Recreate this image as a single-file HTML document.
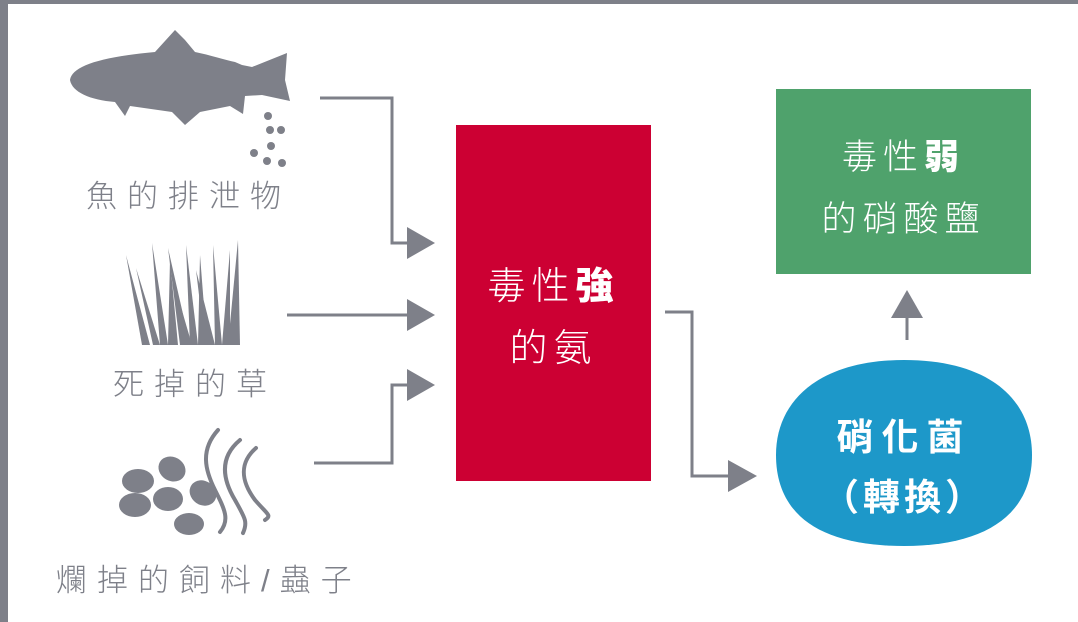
<!DOCTYPE html>
<html><head><meta charset="utf-8"><style>
html,body{margin:0;padding:0;background:#fff;}
body{width:1078px;height:622px;position:relative;overflow:hidden;font-family:"Liberation Sans","Noto Sans CJK TC",sans-serif;}
.t{position:absolute;color:#7e8089;font-size:31px;letter-spacing:10px;white-space:nowrap;font-weight:300;}
.w{position:absolute;color:#fff;text-align:center;white-space:nowrap;font-weight:300;}
.w b{font-weight:900;}
</style></head><body>
<div style="position:absolute;left:0;top:0;width:1078px;height:4px;background:#7e8089"></div>
<div style="position:absolute;left:0;top:0;width:8px;height:622px;background:#7e8089"></div>

<svg width="1078" height="622" style="position:absolute;left:0;top:0">
<g fill="#7e8089" stroke="none">
<path d="M70,80 C72,66 100,57 155,52 L175,30 L185,40 L195,52 C210,55 225,60 235,62 L242,65 L252,67 L287,53 L285,80 L290,101 L262,95 L245,96 L243,114 L230,106 L200,112 L185,125 L172,112 L130,106 L125,116 L115,102 C90,100 72,92 70,80Z"/>
<circle cx="268" cy="116" r="4"/><circle cx="270" cy="130" r="4"/><circle cx="281" cy="130" r="4"/>
<circle cx="271" cy="146" r="4"/><circle cx="254" cy="153" r="4"/><circle cx="267" cy="161" r="4"/><circle cx="282" cy="163" r="4"/>
<ellipse cx="138" cy="481" rx="16" ry="12"/><ellipse cx="135" cy="505" rx="16" ry="12"/>
<ellipse cx="172" cy="469" rx="14" ry="12" transform="rotate(30 172 469)"/>
<ellipse cx="168" cy="499" rx="15" ry="12"/>
<ellipse cx="203" cy="493" rx="14" ry="12" transform="rotate(35 203 493)"/>
<ellipse cx="189" cy="524" rx="15" ry="11"/>
</g>
<g fill="none" stroke="#7e8089" stroke-width="4" stroke-linecap="round">
<path d="M218,430 C200,450 205,470 215,490 C225,510 230,520 220,532"/>
<path d="M240,440 C222,455 220,475 235,500 C245,518 248,522 243,533"/>
<path d="M256,448 C240,462 240,480 255,500 C268,515 272,515 265,520"/>
</g>
<g fill="#7e8089">
<path d="M142,345 L126,255 L150,345Z"/><path d="M153,345 L136,268 L160,345Z"/>
<path d="M160,345 L152,243 L168,345Z"/><path d="M168,345 L170,260 L178,345Z"/>
<path d="M180,345 L168,248 L190,345Z"/><path d="M190,345 L186,245 L198,345Z"/>
<path d="M198,345 L200,255 L207,345Z"/><path d="M205,345 L196,270 L215,345Z"/>
<path d="M215,345 L213,245 L222,345Z"/><path d="M222,345 L230,250 L230,345Z"/>
<path d="M228,345 L238,240 L240,345Z"/><path d="M184,345 L176,290 L192,345Z"/>
</g>
<g fill="none" stroke="#7e8089" stroke-width="3">
<path d="M320,98 H392 V243 H410"/>
<path d="M287,315 H410"/>
<path d="M314,463 H392 V385 H410"/>
<path d="M665,312 H692 V476 H732"/>
<path d="M907,340 V316"/>
</g>
<g fill="#7e8089">
<path d="M407,227 L435,243 L407,259Z"/>
<path d="M407,299 L435,315 L407,331Z"/>
<path d="M407,369 L435,385 L407,401Z"/>
<path d="M728,460 L757,476 L728,492Z"/>
<path d="M891,318 L907,290 L923,318Z"/>
</g>
<rect x="456" y="125" width="195" height="356" fill="#cc0033"/>
<rect x="776" y="89" width="255" height="185" fill="#4fa26c"/>
<path d="M904,360 C990,360 1032,400 1032,455 C1032,515 985,546 904,546 C820,546 776,515 776,455 C776,400 820,360 904,360Z" fill="#1d98c9"/>
</svg>

<div class="t" style="left:86px;top:171px;">魚的排泄物</div>
<div class="t" style="left:113px;top:359px;">死掉的草</div>
<div class="t" style="left:56px;top:555px;">爛掉的飼料/蟲子</div>

<div class="w" style="left:456px;width:195px;top:255px;font-size:38px;letter-spacing:6px;">毒性<b>強</b></div>
<div class="w" style="left:456px;width:195px;top:317px;font-size:38px;letter-spacing:6px;">的氨</div>
<div class="w" style="left:776px;width:255px;top:129px;font-size:35px;letter-spacing:6px;">毒性<b>弱</b></div>
<div class="w" style="left:776px;width:255px;top:191px;font-size:35px;letter-spacing:6px;">的硝酸鹽</div>
<div class="w" style="left:776px;width:256px;top:407px;font-size:37px;letter-spacing:8px;font-weight:bold;">硝化菌</div>
<div class="w" style="left:776px;width:256px;top:467px;font-size:37px;letter-spacing:4px;font-weight:bold;">（轉換）</div>
</body></html>
